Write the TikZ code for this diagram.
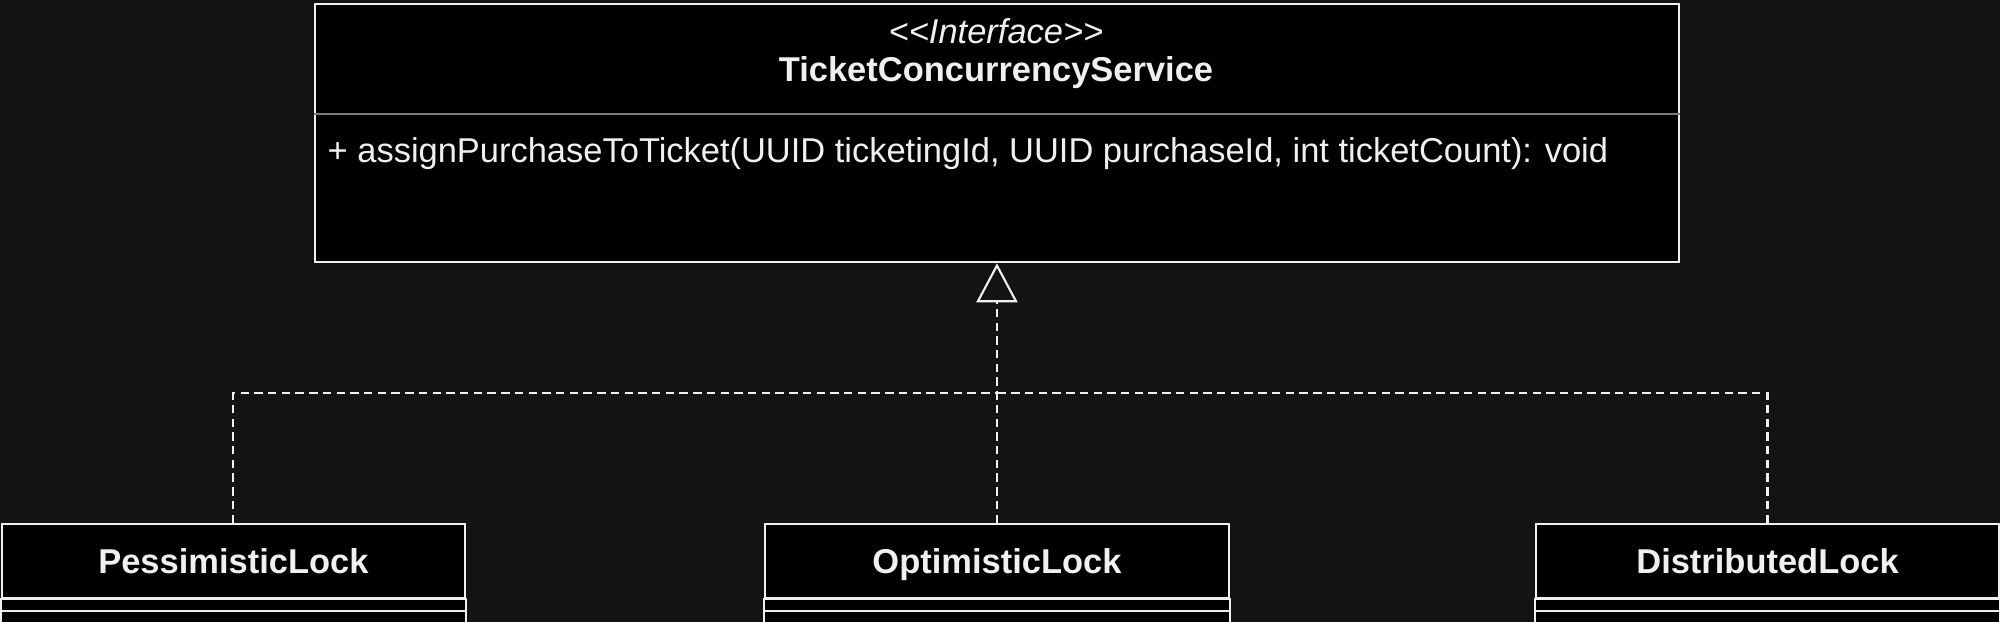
\documentclass[tikz,border=0pt]{standalone}
\usepackage{fontspec}
\setmainfont{Liberation Sans}
\usetikzlibrary{arrows.meta,positioning}
\definecolor{canvas}{HTML}{131313}
\definecolor{ink}{HTML}{F0F0F0}
\definecolor{divider}{HTML}{7A7A7A}

\begin{document}
\begin{tikzpicture}[
  x=0.01cm, y=-0.01cm,
  umlbox/.style={draw=ink, fill=black, line width=0.6pt, inner sep=0pt},
  classbox/.style={umlbox, minimum width=4.63cm, minimum height=0.74cm, text height=1.6ex, text depth=0.3ex, text=ink, font=\fontsize{9.8}{12}\selectfont\bfseries},
  realize/.style={draw=ink, line width=0.6pt, dash pattern=on 2.4pt off 1.5pt},
  hollow/.style={-{Triangle[open, length=0.39cm, width=0.41cm, line width=0.6pt]}}
]
  \fill[canvas] (0,0) rectangle (2000,622);
  \clip (0,0) rectangle (2000,622);

  % interface
  \node[umlbox, anchor=north west, minimum width=13.63cm, minimum height=2.58cm] (iface) at (314,3) {};
  \node[text=ink, font=\fontsize{9.8}{12}\selectfont\itshape] (stereo) at (996,31) {{<}{<}Interface{>}{>}};
  \node[text=ink, font=\fontsize{9.8}{12}\selectfont\bfseries] (ifname) at (996,73) {TicketConcurrencyService};
  \draw[divider, line width=0.6pt] (iface.west |- 0,114) -- (iface.east |- 0,114);
  \node[text=ink, anchor=west, inner sep=0pt, font=\fontsize{9.8}{12}\selectfont] (method) at (327,154)
    {+ assignPurchaseToTicket(UUID ticketingId, UUID purchaseId, int ticketCount): void};

  % implementations
  \node[classbox, anchor=north] (opt) at (iface.south |- 0,523) {OptimisticLock};
  \node[classbox, left=2.98cm of opt] (pess) {PessimisticLock};
  \node[classbox, right=3.05cm of opt] (dist) {DistributedLock};

  \foreach \c in {pess,opt,dist} {
    \draw[umlbox] (\c.south west) rectangle ([yshift=-0.12cm]\c.south east);
    \draw[umlbox] ([yshift=-0.12cm]\c.south west) rectangle ([yshift=-0.4cm]\c.south east);
  }

  \coordinate (join) at (iface.south |- 0,393);
  \draw[realize] (pess.north) |- (join);
  \draw[realize] (dist.north) |- (join);
  \draw[realize, hollow] (opt.north) -- (iface.south);
\end{tikzpicture}
\end{document}
